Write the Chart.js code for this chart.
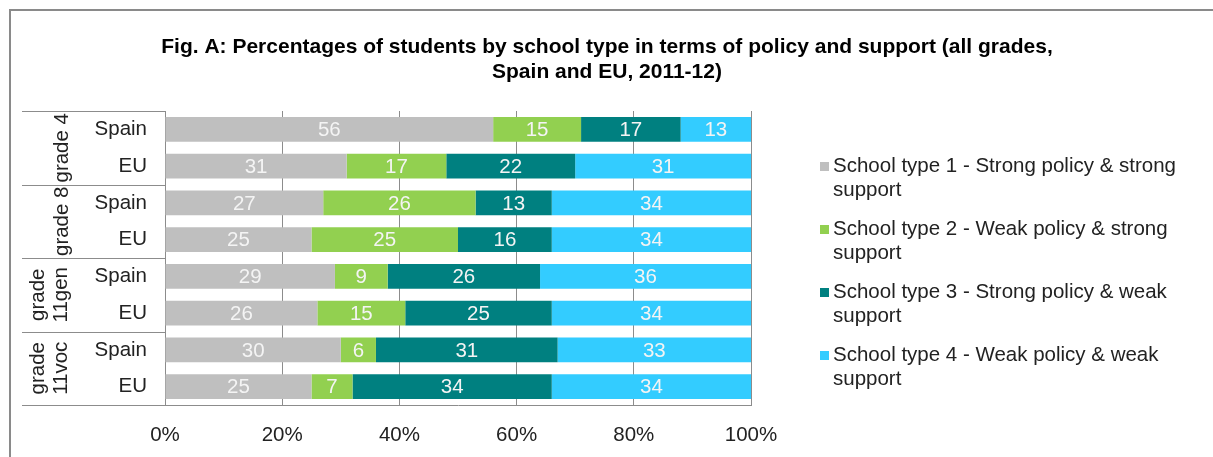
<!DOCTYPE html>
<html>
<head>
<meta charset="utf-8">
<script src="https://cdn.jsdelivr.net/npm/chart.js@4/dist/chart.umd.min.js"></script>
<style>
  html, body { margin: 0; padding: 0; background: #fff; }
  #wrap { width: 1213px; height: 457px; position: relative; }
</style>
</head>
<body>
<div id="wrap"><canvas id="schoolChart" width="1213" height="457"></canvas></div>
<script>
const rowLabels = ["Spain", "EU", "Spain", "EU", "Spain", "EU", "Spain", "EU"];
const groupLabels = [["grade 4"], ["grade 8"], ["grade", "11gen"], ["grade", "11voc"]];
const seriesNames = [
  "School type 1 - Strong policy & strong support",
  "School type 2 - Weak policy & strong support",
  "School type 3 - Strong policy & weak support",
  "School type 4 - Weak policy & weak support"
];
const type1 = [56, 31, 27, 25, 29, 26, 30, 25];
const type2 = [15, 17, 26, 25, 9, 15, 6, 7];
const type3 = [17, 22, 13, 16, 26, 25, 31, 34];
const type4 = [13, 31, 34, 34, 36, 34, 33, 34];
const xTicks = [0, 20, 40, 60, 80, 100];
const titleLines = [
  "Fig. A: Percentages of students by school type in terms of policy and support (all grades,",
  "Spain and EU, 2011-12)"
];

const colors = ["#bfbfbf", "#92d050", "#008080", "#33ccff"];
const FONT = "'Liberation Sans', Arial, sans-serif";
const TXT = 20.5;
const lineGrey = "#8c8c8c";

// frame, title, grouped category labels, bar values and the legend
const decorations = {
  id: "decorations",
  beforeDraw(chart) {
    const ctx = chart.ctx;
    ctx.save();
    ctx.strokeStyle = "#8a8a8a";
    ctx.lineWidth = 2;
    ctx.beginPath();
    ctx.moveTo(10, 460);
    ctx.lineTo(10, 10);
    ctx.lineTo(1220, 10);
    ctx.stroke();

    ctx.fillStyle = "#000";
    ctx.font = "bold 21px " + FONT;
    ctx.textAlign = "center";
    ctx.textBaseline = "middle";
    titleLines.forEach((t, i) => ctx.fillText(t, 607, 47 + i * 25));
    ctx.restore();
  },
  afterDraw(chart) {
    const ctx = chart.ctx;
    const y = chart.scales.y;
    const area = chart.chartArea;
    ctx.save();

    // group separators to the left of the plot
    const bounds = [area.top];
    for (let i = 1; i < rowLabels.length; i += 2) {
      bounds.push(i + 1 < rowLabels.length
        ? (y.getPixelForValue(i) + y.getPixelForValue(i + 1)) / 2
        : area.bottom);
    }
    ctx.strokeStyle = lineGrey;
    ctx.lineWidth = 1;
    bounds.forEach(b => {
      const yy = Math.round(b) + 0.5;
      ctx.beginPath();
      ctx.moveTo(22, yy);
      ctx.lineTo(area.left, yy);
      ctx.stroke();
    });

    // rotated group names
    ctx.fillStyle = "#222";
    ctx.font = TXT + "px " + FONT;
    ctx.textAlign = "center";
    ctx.textBaseline = "middle";
    groupLabels.forEach((lines, g) => {
      const cy = (bounds[g] + bounds[g + 1]) / 2;
      const xs = lines.length === 1 ? [62] : [38, 61];
      lines.forEach((t, k) => {
        ctx.save();
        ctx.translate(xs[k], cy);
        ctx.rotate(-Math.PI / 2);
        ctx.fillText(t, 0, 0);
        ctx.restore();
      });
    });

    // values inside the bars
    ctx.fillStyle = "#f4f4f4";
    chart.data.datasets.forEach((ds, di) => {
      chart.getDatasetMeta(di).data.forEach((bar, i) => {
        const p = bar.getCenterPoint();
        const right = Math.min(bar.x, area.right);
        const cx = (Math.max(bar.base, area.left) + right) / 2;
        ctx.fillText(String(ds.data[i]), cx, p.y + 1);
      });
    });

    // legend
    ctx.textAlign = "left";
    const lx = area.right + 69;
    let ly = area.top + 55;
    chart.data.datasets.forEach((ds, di) => {
      const words = ds.label.split(" ");
      const lines = [];
      let cur = "";
      words.forEach(w => {
        const test = cur ? cur + " " + w : w;
        if (ctx.measureText(test).width > 372 && cur) {
          lines.push(cur);
          cur = w;
        } else {
          cur = test;
        }
      });
      lines.push(cur);
      ctx.fillStyle = colors[di];
      ctx.fillRect(lx, ly - 4, 9, 9);
      ctx.fillStyle = "#222";
      lines.forEach((t, k) => ctx.fillText(t, lx + 13, ly + k * 24));
      ly += 63;
    });
    ctx.restore();
  }
};

const datasets = [type1, type2, type3, type4].map((vals, i) => ({
  label: seriesNames[i],
  data: vals,
  backgroundColor: colors[i],
  borderWidth: 0,
  categoryPercentage: 1,
  barPercentage: 0.68
}));

new Chart(document.getElementById("schoolChart"), {
  type: "bar",
  data: { labels: rowLabels, datasets },
  options: {
    indexAxis: "y",
    responsive: false,
    animation: false,
    layout: { padding: { top: 111, right: 462, bottom: 0, left: 0 } },
    plugins: {
      legend: { display: false },
      title: { display: false },
      tooltip: { enabled: false }
    },
    scales: {
      x: {
        stacked: true,
        min: 0,
        max: 100,
        afterBuildTicks(scale) {
          scale.ticks = xTicks.map(v => ({ value: v }));
        },
        afterFit(scale) { scale.height = 52; },
        grid: { color: lineGrey, drawTicks: false },
        border: { display: true, color: lineGrey },
        ticks: {
          padding: 18,
          color: "#222",
          font: { family: FONT, size: TXT },
          callback: v => v + "%"
        }
      },
      y: {
        stacked: true,
        afterFit(scale) { scale.width = 165; },
        grid: { drawOnChartArea: false, drawTicks: false },
        border: { display: true, color: lineGrey },
        ticks: {
          padding: 18,
          color: "#222",
          font: { family: FONT, size: TXT }
        }
      }
    }
  },
  plugins: [decorations]
});
</script>
</body>
</html>
